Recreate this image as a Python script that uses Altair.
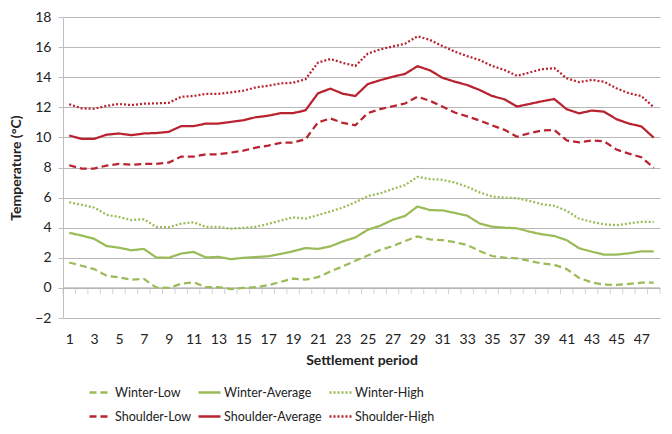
import altair as alt
import pandas as pd

periods = list(range(1, 49))

winter_low = [1.69, 1.47, 1.25, 0.81, 0.70, 0.55, 0.60, 0.03, 0.00, 0.27,
              0.37, 0.05, 0.05, -0.08, 0.00, 0.05, 0.18, 0.40, 0.62, 0.55,
              0.71, 1.10, 1.43, 1.80, 2.15, 2.52, 2.78, 3.11, 3.42, 3.22,
              3.17, 3.04, 2.85, 2.45, 2.12, 2.01, 1.97, 1.80, 1.62, 1.53,
              1.25, 0.66, 0.37, 0.22, 0.20, 0.26, 0.35, 0.35]
winter_avg = [3.66, 3.48, 3.26, 2.78, 2.67, 2.50, 2.59, 2.02, 2.00, 2.28,
              2.39, 2.02, 2.06, 1.91, 2.00, 2.05, 2.10, 2.26, 2.43, 2.65,
              2.59, 2.76, 3.09, 3.35, 3.86, 4.13, 4.52, 4.78, 5.41, 5.17,
              5.15, 4.98, 4.80, 4.28, 4.07, 4.00, 3.96, 3.74, 3.56, 3.45,
              3.17, 2.63, 2.41, 2.21, 2.21, 2.30, 2.43, 2.43]
winter_high = [5.69, 5.52, 5.34, 4.86, 4.71, 4.51, 4.56, 4.05, 4.03, 4.27,
               4.36, 4.05, 4.05, 3.94, 3.99, 4.06, 4.25, 4.47, 4.69, 4.60,
               4.84, 5.08, 5.34, 5.69, 6.10, 6.28, 6.57, 6.83, 7.38, 7.23,
               7.18, 7.00, 6.72, 6.35, 6.07, 6.00, 5.96, 5.78, 5.56, 5.45,
               5.12, 4.60, 4.39, 4.22, 4.17, 4.28, 4.39, 4.39]
shoulder_low = [8.15, 7.93, 7.93, 8.13, 8.24, 8.18, 8.24, 8.24, 8.33, 8.73,
                8.73, 8.88, 8.88, 8.99, 9.12, 9.32, 9.46, 9.64, 9.66, 9.88,
                11.00, 11.26, 10.96, 10.80, 11.61, 11.88, 12.07, 12.25, 12.71, 12.43,
                12.05, 11.65, 11.40, 11.12, 10.80, 10.50, 10.04, 10.28, 10.46, 10.50,
                9.80, 9.67, 9.80, 9.74, 9.19, 8.92, 8.68, 7.98]
shoulder_avg = [10.13, 9.90, 9.90, 10.18, 10.26, 10.15, 10.26, 10.29, 10.37, 10.75,
                10.75, 10.92, 10.92, 11.03, 11.14, 11.34, 11.44, 11.61, 11.61, 11.80,
                12.93, 13.24, 12.90, 12.75, 13.54, 13.80, 14.03, 14.22, 14.73, 14.46,
                13.96, 13.70, 13.48, 13.15, 12.75, 12.53, 12.05, 12.22, 12.40, 12.55,
                11.87, 11.60, 11.78, 11.71, 11.21, 10.92, 10.73, 9.98]
shoulder_high = [12.20, 11.93, 11.90, 12.10, 12.22, 12.15, 12.24, 12.26, 12.30, 12.70,
                 12.75, 12.90, 12.90, 12.99, 13.10, 13.32, 13.43, 13.59, 13.63, 13.87,
                 14.97, 15.21, 14.95, 14.75, 15.56, 15.85, 16.04, 16.22, 16.72, 16.48,
                 16.07, 15.70, 15.40, 15.14, 14.75, 14.48, 14.09, 14.31, 14.53, 14.60,
                 13.93, 13.67, 13.82, 13.70, 13.26, 12.93, 12.75, 12.00]

# legend fills column by column, so list the names column-wise
series_names = ["Winter-Low", "Shoulder-Low", "Winter-Average",
                "Shoulder-Average", "Winter-High", "Shoulder-High"]
series_values = [winter_low, shoulder_low, winter_avg,
                 shoulder_avg, winter_high, shoulder_high]
series_colors = ["#9BBB59", "#B92330", "#9BBB59", "#B92330", "#9BBB59", "#B92330"]
series_dashes = [[7, 4], [7, 4], [1, 0], [1, 0], [2, 2], [2, 2]]

y_ticks = list(range(-2, 19, 2))
x_labels = list(range(1, 48, 2))

rows = []
for name, vals in zip(series_names, series_values):
    for p, v in zip(periods, vals):
        rows.append({"period": p, "value": v, "series": name})
df = pd.DataFrame(rows)

x_domain = [periods[0] - 0.5, periods[-1] + 0.5]
boundaries = pd.DataFrame({"period": [p - 0.5 for p in periods] + [periods[-1] + 0.5],
                           "value": [0] * (len(periods) + 1)})
zero_df = pd.DataFrame({"value": [0]})

font = "Lato"
axis_grey = "#BFBFBF"

x_scale = alt.Scale(domain=x_domain, nice=False, zero=False)
y_scale = alt.Scale(domain=[y_ticks[0], y_ticks[-1]], nice=False, zero=False)

x_axis = alt.Axis(values=x_labels, title="Settlement period", grid=False,
                  ticks=False, domain=False, labelPadding=14, titlePadding=7,
                  labelFlush=False)
y_axis = alt.Axis(values=y_ticks, title="Temperature (°C)", grid=True,
                  gridColor="#B8B8B8", domainColor=axis_grey, tickColor=axis_grey,
                  tickSize=5, labelPadding=7, titlePadding=11)

legend = alt.Legend(title=None, orient="none", legendX=25, legendY=363, columns=3,
                    symbolType="stroke", symbolSize=484, symbolStrokeWidth=2.5,
                    labelFont=font, labelFontSize=12.5, labelColor="#222",
                    labelOffset=2, rowPadding=5, columnPadding=2, padding=0)

lines = alt.Chart(df).mark_line(strokeWidth=2.25).encode(
    x=alt.X("period:Q", scale=x_scale, axis=x_axis),
    y=alt.Y("value:Q", scale=y_scale, axis=y_axis),
    color=alt.Color("series:N", scale=alt.Scale(domain=series_names, range=series_colors),
                    legend=legend),
    strokeDash=alt.StrokeDash("series:N", scale=alt.Scale(domain=series_names, range=series_dashes),
                              legend=legend),
    order=alt.Order("period:Q"),
)

zero_rule = alt.Chart(zero_df).mark_rule(color="#AFAFAF", strokeWidth=1).encode(
    y=alt.Y("value:Q", scale=y_scale, axis=y_axis)
)

ticks = alt.Chart(boundaries).mark_tick(orient="vertical", size=6, thickness=1,
                                        yOffset=3, color=axis_grey).encode(
    x=alt.X("period:Q", scale=x_scale, axis=x_axis),
    y=alt.Y("value:Q", scale=y_scale, axis=y_axis),
)

chart = alt.layer(zero_rule, ticks, lines).properties(
    width=597, height=301,
    autosize=alt.AutoSizeParams(type="none"),
    padding={"left": 55, "top": 9, "right": 4, "bottom": 106},
).configure_view(stroke=None).configure_axis(
    labelFont=font, titleFont=font, labelColor="#222", titleColor="#222",
    labelFontSize=14, titleFontSize=14, titleFontWeight="bold",
)

chart.save("out.html", embed_options={"renderer": "svg", "actions": False})
